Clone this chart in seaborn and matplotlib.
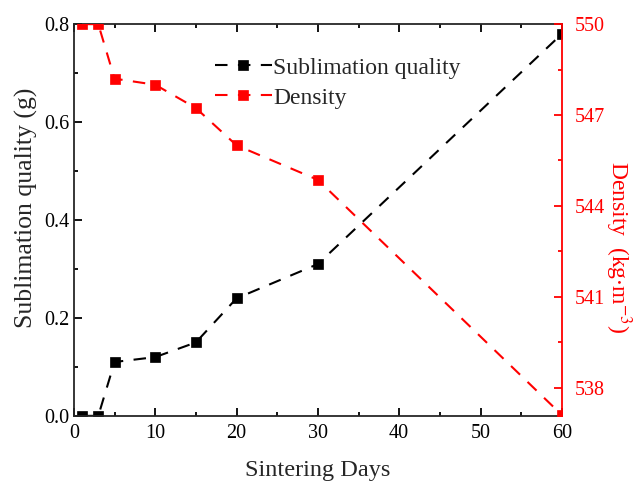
import numpy as np
import pandas as pd
import matplotlib
matplotlib.use("Agg")
import matplotlib.pyplot as plt
import seaborn as sns
from matplotlib.ticker import MultipleLocator, FixedLocator, FormatStrFormatter

# data
days = [1, 3, 5, 10, 15, 20, 30, 60]
sublimation = [0.0, 0.0, 0.11, 0.12, 0.15, 0.24, 0.31, 0.78]
density = [550.0, 550.0, 548.2, 548.0, 547.23, 546.0, 544.86, 537.1]

sns.set_style("ticks")
plt.rcParams['font.family'] = ['Liberation Serif', 'DejaVu Serif']
plt.rcParams['mathtext.fontset'] = 'stix'

df = pd.DataFrame({'days': days, 'sub': sublimation, 'dens': density})

fig = plt.figure(figsize=(6.37, 4.83), dpi=100)
ax = fig.add_axes([0.116, 0.139, 0.766, 0.811])
ax2 = ax.twinx()

dash = (0, (6, 5))
sns.lineplot(data=df, x='days', y='sub', ax=ax, color='black', marker='s',
             markersize=7.5, markeredgewidth=0.5, markeredgecolor='black',
             linestyle=dash, linewidth=1.5, label='Sublimation quality', legend=False)
sns.lineplot(data=df, x='days', y='dens', ax=ax2, color='red', marker='s',
             markersize=7.5, markeredgewidth=0.5, markeredgecolor='red',
             linestyle=dash, linewidth=1.5, label='Density', legend=False)

ax.set_xlim(0, 60)
ax.set_ylim(0, 0.8)
ax2.set_ylim(537.07, 550)

ax.xaxis.set_major_locator(MultipleLocator(10))
ax.xaxis.set_minor_locator(MultipleLocator(5))
ax.yaxis.set_major_locator(MultipleLocator(0.2))
ax.yaxis.set_minor_locator(MultipleLocator(0.1))
ax.yaxis.set_major_formatter(FormatStrFormatter('%.1f'))
ax2.yaxis.set_major_locator(FixedLocator([538, 541, 544, 547, 550]))
ax2.yaxis.set_minor_locator(FixedLocator([539.5, 542.5, 545.5, 548.5]))

ax.tick_params(which='both', direction='in', top=True, right=False, labelsize=14.5,
               width=1.3, colors='black')
ax.tick_params(which='major', length=6)
ax.tick_params(which='minor', length=3)
ax.tick_params(axis='x', pad=6)
ax2.tick_params(which='both', direction='in', labelsize=14.5, width=1.3,
                colors='red', labelcolor='red', pad=9)
ax2.tick_params(which='major', length=6)
ax2.tick_params(which='minor', length=3)

for s in ['left', 'bottom', 'top']:
    ax.spines[s].set_linewidth(1.3)
ax.spines['right'].set_visible(False)
ax2.spines['right'].set_color('red')
ax2.spines['right'].set_linewidth(1.3)
for s in ['left', 'bottom', 'top']:
    ax2.spines[s].set_visible(False)

ax.set_xlabel('Sintering Days', fontsize=17.5)
ax.xaxis.set_label_coords(0.5, -0.113)
ax.set_ylabel('Sublimation quality (g)', fontsize=18.5, labelpad=4)
ax.yaxis.label.set_y(0.53)
ax2.set_ylabel(r'Density  (kg$\cdot$m$^{-3}$)', fontsize=17, color='red',
               rotation=270, labelpad=21)
ax2.yaxis.label.set_y(0.43)

h1, l1 = ax.get_legend_handles_labels()
h2, l2 = ax2.get_legend_handles_labels()
ax2.legend(h1 + h2, l1 + l2, loc='upper left', bbox_to_anchor=(0.27, 0.94),
           frameon=False, fontsize=17, handlelength=2.4, handletextpad=0.05,
           labelspacing=0.36, borderaxespad=0)

fig.savefig('out.png', dpi=100)
